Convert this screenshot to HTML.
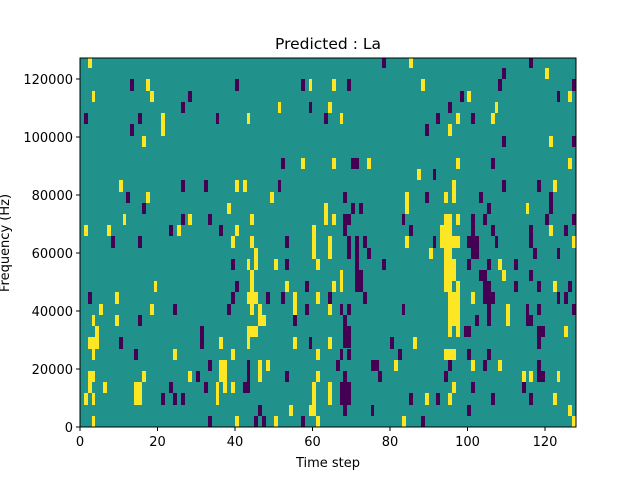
<!DOCTYPE html>
<html><head><meta charset="utf-8"><style>body{margin:0;background:#fff}svg{display:block}text{font-family:"DejaVu Sans","Liberation Sans",sans-serif;fill:#000}</style></head><body>
<svg width="640" height="480" viewBox="0 0 640 480">
<rect x="80" y="58" width="496" height="369" fill="#21918c"/>
<defs><style>.y{fill:#fde725}.p{fill:#440154}</style></defs>
<g transform="translate(80,58) scale(0.33333)">
<rect class="y" x="24" y="0" width="12" height="30"/><rect class="p" x="150" y="63" width="12" height="36"/><rect class="y" x="198" y="63" width="12" height="36"/><rect class="p" x="465" y="63" width="12" height="36"/><rect class="p" x="663" y="63" width="12" height="36"/><rect class="y" x="687" y="63" width="9" height="36"/><rect class="y" x="36" y="99" width="9" height="33"/><rect class="y" x="210" y="99" width="12" height="33"/><rect class="p" x="324" y="99" width="12" height="33"/><rect class="p" x="303" y="132" width="12" height="33"/><rect class="y" x="594" y="132" width="9" height="33"/><rect class="p" x="687" y="132" width="9" height="33"/><rect class="p" x="12" y="165" width="12" height="33"/><rect class="p" x="174" y="165" width="12" height="33"/><rect class="y" x="243" y="165" width="12" height="69"/><rect class="p" x="408" y="165" width="9" height="33"/><rect class="y" x="501" y="165" width="9" height="33"/><rect class="p" x="732" y="165" width="12" height="33"/><rect class="p" x="150" y="198" width="12" height="36"/><rect class="y" x="186" y="234" width="12" height="33"/><rect class="p" x="603" y="300" width="12" height="33"/><rect class="y" x="663" y="300" width="12" height="33"/><rect class="y" x="117" y="366" width="12" height="36"/><rect class="p" x="303" y="366" width="12" height="36"/><rect class="p" x="372" y="366" width="12" height="36"/><rect class="y" x="465" y="366" width="12" height="36"/><rect class="y" x="489" y="366" width="12" height="36"/><rect class="p" x="594" y="366" width="9" height="36"/><rect class="p" x="138" y="402" width="12" height="33"/><rect class="y" x="198" y="402" width="12" height="33"/><rect class="y" x="570" y="402" width="12" height="33"/><rect class="p" x="186" y="435" width="12" height="33"/><rect class="y" x="441" y="435" width="12" height="33"/><rect class="y" x="732" y="435" width="12" height="66"/><rect class="y" x="129" y="468" width="9" height="33"/><rect class="p" x="303" y="468" width="12" height="33"/><rect class="y" x="324" y="468" width="12" height="33"/><rect class="p" x="384" y="468" width="12" height="33"/><rect class="y" x="510" y="468" width="12" height="33"/><rect class="y" x="12" y="501" width="12" height="33"/><rect class="y" x="81" y="501" width="12" height="33"/><rect class="p" x="267" y="501" width="12" height="33"/><rect class="y" x="291" y="501" width="12" height="33"/><rect class="p" x="417" y="501" width="12" height="33"/><rect class="y" x="465" y="501" width="12" height="33"/><rect class="y" x="696" y="501" width="12" height="54"/><rect class="p" x="93" y="534" width="12" height="21"/><rect class="p" x="174" y="534" width="12" height="21"/><rect class="y" x="453" y="534" width="12" height="21"/><rect class="y" x="510" y="534" width="12" height="21"/><rect class="p" x="615" y="534" width="12" height="21"/>
</g>
<g transform="translate(328,58) scale(0.33333)">
<rect class="p" x="162" y="0" width="12" height="30"/><rect class="y" x="243" y="0" width="12" height="30"/><rect class="p" x="603" y="0" width="12" height="30"/><rect class="p" x="522" y="30" width="12" height="33"/><rect class="y" x="651" y="30" width="12" height="33"/><rect class="y" x="12" y="63" width="12" height="36"/><rect class="p" x="57" y="63" width="12" height="36"/><rect class="y" x="279" y="63" width="12" height="36"/><rect class="p" x="510" y="63" width="12" height="36"/><rect class="p" x="732" y="63" width="12" height="36"/><rect class="p" x="396" y="99" width="12" height="33"/><rect class="y" x="417" y="99" width="12" height="33"/><rect class="p" x="687" y="99" width="9" height="33"/><rect class="y" x="720" y="99" width="12" height="33"/><rect class="y" x="0" y="132" width="12" height="33"/><rect class="p" x="360" y="132" width="12" height="33"/><rect class="y" x="501" y="132" width="9" height="33"/><rect class="y" x="36" y="165" width="9" height="33"/><rect class="p" x="324" y="165" width="12" height="33"/><rect class="y" x="384" y="165" width="12" height="33"/><rect class="p" x="429" y="165" width="12" height="33"/><rect class="y" x="489" y="165" width="12" height="33"/><rect class="p" x="291" y="198" width="12" height="36"/><rect class="y" x="360" y="198" width="12" height="36"/><rect class="p" x="522" y="234" width="12" height="33"/><rect class="y" x="663" y="234" width="12" height="33"/><rect class="p" x="732" y="234" width="12" height="33"/><rect class="y" x="12" y="300" width="12" height="33"/><rect class="p" x="69" y="300" width="24" height="33"/><rect class="y" x="117" y="300" width="12" height="33"/><rect class="y" x="384" y="300" width="12" height="33"/><rect class="p" x="489" y="300" width="12" height="33"/><rect class="y" x="720" y="300" width="12" height="33"/><rect class="y" x="267" y="333" width="12" height="33"/><rect class="p" x="315" y="333" width="9" height="33"/><rect class="y" x="372" y="366" width="12" height="69"/><rect class="p" x="522" y="366" width="12" height="36"/><rect class="p" x="627" y="366" width="12" height="36"/><rect class="y" x="675" y="366" width="12" height="36"/><rect class="p" x="45" y="402" width="12" height="33"/><rect class="y" x="231" y="402" width="12" height="66"/><rect class="p" x="291" y="402" width="12" height="33"/><rect class="y" x="348" y="402" width="12" height="33"/><rect class="p" x="453" y="402" width="12" height="33"/><rect class="p" x="663" y="402" width="12" height="66"/><rect class="p" x="69" y="435" width="12" height="33"/><rect class="p" x="93" y="435" width="12" height="33"/><rect class="p" x="477" y="435" width="12" height="33"/><rect class="y" x="594" y="435" width="9" height="33"/><rect class="y" x="12" y="468" width="12" height="33"/><rect class="p" x="45" y="468" width="24" height="33"/><rect class="p" x="222" y="468" width="9" height="33"/><rect class="y" x="348" y="468" width="24" height="87"/><rect class="y" x="384" y="468" width="12" height="33"/><rect class="p" x="429" y="468" width="12" height="87"/><rect class="p" x="465" y="468" width="12" height="33"/><rect class="p" x="651" y="468" width="12" height="33"/><rect class="p" x="732" y="468" width="12" height="33"/><rect class="p" x="45" y="501" width="12" height="33"/><rect class="p" x="243" y="501" width="12" height="33"/><rect class="y" x="336" y="501" width="12" height="54"/><rect class="p" x="489" y="501" width="12" height="33"/><rect class="p" x="603" y="501" width="12" height="54"/><rect class="y" x="663" y="501" width="12" height="33"/><rect class="p" x="708" y="501" width="12" height="33"/><rect class="y" x="0" y="534" width="12" height="21"/><rect class="p" x="57" y="534" width="12" height="21"/><rect class="p" x="81" y="534" width="12" height="21"/><rect class="p" x="105" y="534" width="12" height="21"/><rect class="y" x="231" y="534" width="12" height="21"/><rect class="p" x="315" y="534" width="9" height="21"/><rect class="y" x="372" y="534" width="24" height="21"/><rect class="p" x="417" y="534" width="36" height="21"/><rect class="p" x="501" y="534" width="9" height="21"/><rect class="y" x="732" y="534" width="12" height="21"/>
</g>
<g transform="translate(80,243) scale(0.33333)">
<rect class="p" x="93" y="0" width="12" height="15"/><rect class="p" x="174" y="0" width="12" height="15"/><rect class="y" x="453" y="0" width="12" height="15"/><rect class="y" x="510" y="0" width="12" height="15"/><rect class="p" x="615" y="0" width="12" height="15"/><rect class="y" x="696" y="0" width="12" height="48"/><rect class="y" x="522" y="15" width="12" height="66"/><rect class="p" x="453" y="48" width="12" height="33"/><rect class="y" x="501" y="48" width="9" height="33"/><rect class="y" x="582" y="48" width="12" height="33"/><rect class="p" x="615" y="48" width="12" height="33"/><rect class="y" x="708" y="48" width="12" height="33"/><rect class="y" x="510" y="81" width="12" height="66"/><rect class="y" x="222" y="114" width="9" height="33"/><rect class="p" x="465" y="114" width="12" height="33"/><rect class="y" x="615" y="114" width="12" height="33"/><rect class="p" x="675" y="114" width="12" height="33"/><rect class="p" x="24" y="147" width="12" height="36"/><rect class="y" x="105" y="147" width="12" height="36"/><rect class="p" x="453" y="147" width="12" height="36"/><rect class="y" x="501" y="147" width="33" height="36"/><rect class="p" x="558" y="147" width="12" height="36"/><rect class="p" x="603" y="147" width="12" height="36"/><rect class="y" x="639" y="147" width="12" height="69"/><rect class="y" x="708" y="147" width="12" height="36"/><rect class="y" x="57" y="183" width="12" height="33"/><rect class="y" x="210" y="183" width="12" height="33"/><rect class="p" x="279" y="183" width="12" height="33"/><rect class="p" x="441" y="183" width="12" height="33"/><rect class="y" x="510" y="183" width="12" height="33"/><rect class="y" x="534" y="183" width="12" height="66"/><rect class="p" x="675" y="183" width="12" height="33"/><rect class="y" x="36" y="216" width="9" height="33"/><rect class="y" x="105" y="216" width="12" height="33"/><rect class="p" x="174" y="216" width="12" height="33"/><rect class="y" x="546" y="216" width="12" height="33"/><rect class="p" x="639" y="216" width="12" height="33"/><rect class="y" x="45" y="249" width="12" height="33"/><rect class="p" x="360" y="249" width="12" height="69"/><rect class="y" x="501" y="249" width="33" height="33"/><rect class="y" x="24" y="282" width="33" height="36"/><rect class="p" x="117" y="282" width="12" height="36"/><rect class="y" x="417" y="282" width="12" height="36"/><rect class="y" x="501" y="282" width="9" height="36"/><rect class="y" x="639" y="282" width="12" height="36"/><rect class="p" x="687" y="282" width="9" height="36"/><rect class="y" x="36" y="318" width="9" height="33"/><rect class="p" x="162" y="318" width="12" height="33"/><rect class="y" x="279" y="318" width="12" height="33"/><rect class="y" x="453" y="318" width="12" height="33"/><rect class="y" x="708" y="318" width="12" height="33"/><rect class="p" x="384" y="351" width="12" height="33"/><rect class="y" x="417" y="351" width="24" height="66"/><rect class="p" x="501" y="351" width="9" height="99"/><rect class="y" x="534" y="351" width="12" height="66"/><rect class="y" x="558" y="351" width="12" height="33"/><rect class="y" x="24" y="384" width="21" height="33"/><rect class="y" x="186" y="384" width="12" height="33"/><rect class="y" x="324" y="384" width="12" height="33"/><rect class="p" x="348" y="384" width="12" height="33"/><rect class="p" x="615" y="384" width="12" height="33"/><rect class="y" x="708" y="384" width="12" height="33"/><rect class="y" x="24" y="417" width="12" height="33"/><rect class="y" x="69" y="417" width="12" height="33"/><rect class="y" x="162" y="417" width="24" height="69"/><rect class="p" x="267" y="417" width="12" height="33"/><rect class="p" x="372" y="417" width="12" height="33"/><rect class="y" x="408" y="417" width="9" height="69"/><rect class="y" x="429" y="417" width="12" height="33"/><rect class="y" x="453" y="417" width="12" height="33"/><rect class="p" x="489" y="417" width="21" height="33"/><rect class="y" x="696" y="417" width="12" height="69"/><rect class="y" x="12" y="450" width="12" height="36"/><rect class="y" x="36" y="450" width="9" height="36"/><rect class="p" x="243" y="450" width="12" height="36"/><rect class="p" x="279" y="450" width="12" height="36"/><rect class="p" x="303" y="450" width="12" height="36"/><rect class="p" x="534" y="486" width="12" height="33"/><rect class="y" x="627" y="486" width="12" height="33"/><rect class="y" x="687" y="486" width="21" height="33"/><rect class="y" x="36" y="519" width="9" height="33"/><rect class="p" x="384" y="519" width="12" height="33"/><rect class="y" x="465" y="519" width="12" height="33"/><rect class="p" x="522" y="519" width="12" height="33"/><rect class="p" x="546" y="519" width="12" height="33"/><rect class="y" x="582" y="519" width="12" height="33"/><rect class="p" x="663" y="519" width="12" height="33"/><rect class="y" x="708" y="519" width="12" height="33"/>
</g>
<g transform="translate(328,243) scale(0.33333)">
<rect class="y" x="0" y="0" width="12" height="48"/><rect class="p" x="57" y="0" width="12" height="48"/><rect class="p" x="81" y="0" width="12" height="147"/><rect class="p" x="81" y="81" width="24" height="66"/><rect class="p" x="105" y="0" width="12" height="15"/><rect class="y" x="231" y="0" width="12" height="15"/><rect class="p" x="315" y="0" width="9" height="15"/><rect class="y" x="336" y="0" width="60" height="15"/><rect class="y" x="348" y="0" width="24" height="147"/><rect class="y" x="360" y="48" width="24" height="66"/><rect class="p" x="417" y="0" width="36" height="15"/><rect class="p" x="429" y="15" width="24" height="33"/><rect class="p" x="501" y="0" width="9" height="15"/><rect class="p" x="603" y="0" width="12" height="15"/><rect class="y" x="732" y="0" width="12" height="15"/><rect class="p" x="117" y="15" width="12" height="33"/><rect class="y" x="303" y="15" width="12" height="33"/><rect class="p" x="615" y="15" width="12" height="33"/><rect class="p" x="687" y="15" width="9" height="33"/><rect class="p" x="162" y="48" width="12" height="33"/><rect class="p" x="417" y="48" width="12" height="33"/><rect class="p" x="477" y="48" width="12" height="33"/><rect class="y" x="510" y="48" width="12" height="33"/><rect class="p" x="558" y="48" width="12" height="33"/><rect class="y" x="36" y="81" width="9" height="66"/><rect class="p" x="453" y="81" width="24" height="33"/><rect class="y" x="522" y="81" width="12" height="33"/><rect class="p" x="603" y="81" width="12" height="33"/><rect class="y" x="12" y="114" width="12" height="33"/><rect class="y" x="384" y="114" width="12" height="33"/><rect class="p" x="465" y="114" width="24" height="69"/><rect class="p" x="477" y="147" width="24" height="36"/><rect class="p" x="558" y="114" width="12" height="33"/><rect class="p" x="627" y="114" width="12" height="33"/><rect class="y" x="675" y="114" width="12" height="33"/><rect class="p" x="720" y="114" width="12" height="33"/><rect class="p" x="0" y="147" width="12" height="36"/><rect class="p" x="105" y="147" width="12" height="36"/><rect class="y" x="360" y="147" width="36" height="102"/><rect class="y" x="360" y="249" width="12" height="33"/><rect class="y" x="384" y="249" width="12" height="33"/><rect class="y" x="429" y="147" width="12" height="36"/><rect class="p" x="687" y="147" width="9" height="36"/><rect class="p" x="708" y="147" width="12" height="36"/><rect class="y" x="0" y="183" width="12" height="33"/><rect class="p" x="36" y="183" width="9" height="33"/><rect class="p" x="57" y="183" width="12" height="33"/><rect class="p" x="222" y="183" width="9" height="33"/><rect class="p" x="477" y="183" width="12" height="66"/><rect class="y" x="534" y="183" width="12" height="66"/><rect class="p" x="594" y="183" width="9" height="33"/><rect class="p" x="594" y="216" width="21" height="33"/><rect class="p" x="627" y="183" width="12" height="33"/><rect class="p" x="732" y="183" width="12" height="33"/><rect class="p" x="45" y="216" width="12" height="33"/><rect class="p" x="441" y="216" width="12" height="33"/><rect class="p" x="45" y="249" width="24" height="66"/><rect class="p" x="408" y="249" width="21" height="33"/><rect class="p" x="627" y="249" width="24" height="33"/><rect class="y" x="708" y="249" width="12" height="33"/><rect class="y" x="0" y="282" width="12" height="36"/><rect class="p" x="186" y="282" width="12" height="36"/><rect class="y" x="255" y="282" width="12" height="36"/><rect class="p" x="627" y="282" width="12" height="36"/><rect class="p" x="36" y="318" width="9" height="33"/><rect class="p" x="57" y="318" width="12" height="33"/><rect class="p" x="210" y="318" width="12" height="33"/><rect class="y" x="348" y="318" width="36" height="33"/><rect class="p" x="417" y="318" width="12" height="33"/><rect class="p" x="477" y="318" width="12" height="33"/><rect class="p" x="24" y="351" width="12" height="33"/><rect class="p" x="129" y="351" width="24" height="33"/><rect class="y" x="198" y="351" width="12" height="33"/><rect class="p" x="360" y="351" width="12" height="33"/><rect class="y" x="429" y="351" width="12" height="33"/><rect class="p" x="465" y="351" width="12" height="33"/><rect class="y" x="510" y="351" width="12" height="33"/><rect class="p" x="627" y="351" width="12" height="33"/><rect class="p" x="45" y="384" width="12" height="33"/><rect class="p" x="150" y="384" width="12" height="33"/><rect class="p" x="348" y="384" width="12" height="33"/><rect class="y" x="582" y="384" width="12" height="33"/><rect class="y" x="603" y="384" width="12" height="33"/><rect class="p" x="627" y="384" width="24" height="33"/><rect class="y" x="687" y="384" width="9" height="33"/><rect class="y" x="0" y="417" width="12" height="69"/><rect class="p" x="36" y="417" width="33" height="69"/><rect class="y" x="372" y="417" width="12" height="33"/><rect class="p" x="429" y="417" width="12" height="33"/><rect class="p" x="582" y="417" width="12" height="33"/><rect class="p" x="243" y="450" width="12" height="36"/><rect class="y" x="291" y="450" width="12" height="36"/><rect class="p" x="324" y="450" width="12" height="36"/><rect class="y" x="360" y="450" width="12" height="36"/><rect class="p" x="489" y="450" width="12" height="36"/><rect class="p" x="603" y="450" width="12" height="36"/><rect class="y" x="675" y="450" width="12" height="36"/><rect class="p" x="45" y="486" width="12" height="33"/><rect class="p" x="129" y="486" width="9" height="33"/><rect class="p" x="417" y="486" width="12" height="33"/><rect class="y" x="720" y="486" width="12" height="33"/><rect class="y" x="222" y="519" width="12" height="33"/><rect class="p" x="279" y="519" width="12" height="33"/><rect class="y" x="732" y="519" width="12" height="33"/>
</g>
<rect x="80" y="58" width="496" height="369" fill="none" stroke="#000" stroke-width="1"/>
<g stroke="#000" stroke-width="1">
<line x1="80" y1="427" x2="80" y2="431"/><line x1="157.5" y1="427" x2="157.5" y2="431"/><line x1="235" y1="427" x2="235" y2="431"/><line x1="312.5" y1="427" x2="312.5" y2="431"/><line x1="390" y1="427" x2="390" y2="431"/><line x1="467.5" y1="427" x2="467.5" y2="431"/><line x1="545" y1="427" x2="545" y2="431"/>
<line x1="76" y1="427" x2="80" y2="427"/><line x1="76" y1="369" x2="80" y2="369"/><line x1="76" y1="311" x2="80" y2="311"/><line x1="76" y1="253" x2="80" y2="253"/><line x1="76" y1="195" x2="80" y2="195"/><line x1="76" y1="137" x2="80" y2="137"/><line x1="76" y1="79" x2="80" y2="79"/>
</g>
<g font-size="13" text-anchor="middle">
<text x="80" y="446">0</text><text x="157.5" y="446">20</text><text x="235" y="446">40</text><text x="312.5" y="446">60</text><text x="390" y="446">80</text><text x="467.5" y="446">100</text><text x="545" y="446">120</text>
</g>
<g font-size="13" text-anchor="end">
<text x="73" y="432">0</text><text x="73" y="374">20000</text><text x="73" y="316">40000</text><text x="73" y="258">60000</text><text x="73" y="200">80000</text><text x="73" y="142">100000</text><text x="73" y="84">120000</text>
</g>
<text x="328" y="467" font-size="13" text-anchor="middle">Time step</text>
<text transform="translate(9,243) rotate(-90)" font-size="13" text-anchor="middle">Frequency (Hz)</text>
<text x="328" y="49" font-size="15.5" text-anchor="middle">Predicted : La</text>
</svg>
</body></html>
